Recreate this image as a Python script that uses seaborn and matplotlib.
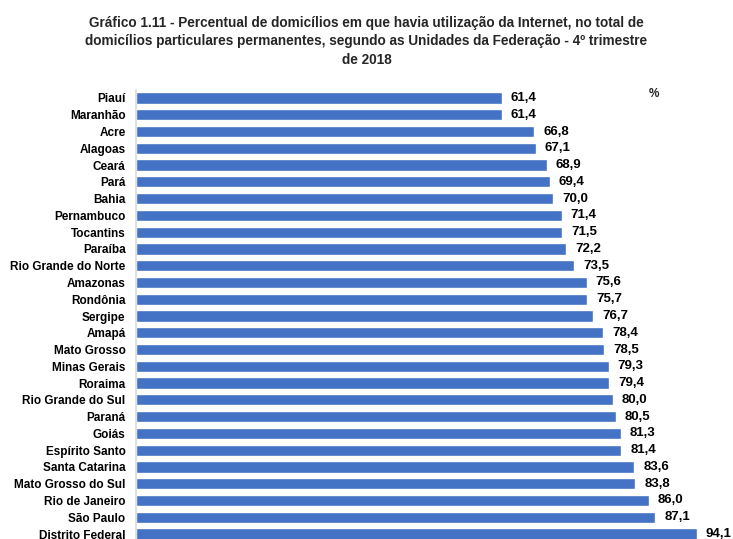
import matplotlib
matplotlib.use("Agg")
import matplotlib.pyplot as plt
import seaborn as sns
import pandas as pd

states = ["Piauí", "Maranhão", "Acre", "Alagoas", "Ceará", "Pará", "Bahia",
          "Pernambuco", "Tocantins", "Paraíba", "Rio Grande do Norte", "Amazonas",
          "Rondônia", "Sergipe", "Amapá", "Mato Grosso", "Minas Gerais", "Roraima",
          "Rio Grande do Sul", "Paraná", "Goiás", "Espírito Santo", "Santa Catarina",
          "Mato Grosso do Sul", "Rio de Janeiro", "São Paulo", "Distrito Federal"]
values = [61.4, 61.4, 66.8, 67.1, 68.9, 69.4, 70.0, 71.4, 71.5, 72.2, 73.5, 75.6,
          75.7, 76.7, 78.4, 78.5, 79.3, 79.4, 80.0, 80.5, 81.3, 81.4, 83.6, 83.8,
          86.0, 87.1, 94.1]
title = ("Gráfico 1.11 - Percentual de domicílios em que havia utilização da Internet, no total de\n"
         "domicílios particulares permanentes, segundo as Unidades da Federação - 4º trimestre\n"
         "de 2018")

sns.set_theme(style="white")
plt.rcParams['font.family'] = ['Liberation Sans Narrow', 'Liberation Sans', 'DejaVu Sans']

df = pd.DataFrame({"state": states, "value": values})

fig = plt.figure(figsize=(7.33, 5.39), dpi=100)
ax = fig.add_axes([136/733, -3.4/539, 596/733, 452.8/539])

sns.barplot(data=df, x="value", y="state", orient="h", color="#4472C4",
            saturation=1, width=0.67, ax=ax)
ax.set_xlim(0, 100)
ax.set_ylim(26.5, -0.5)
ax.set_xlabel("")
ax.set_ylabel("")
ax.set_xticks([])
for s in ["top", "right", "bottom"]:
    ax.spines[s].set_visible(False)
ax.spines["left"].set_color("#D9D9D9")
ax.spines["left"].set_linewidth(1.2)
ax.tick_params(axis="y", length=0, pad=7.5)
for lbl in ax.get_yticklabels():
    lbl.set_fontsize(8.5)
    lbl.set_fontweight("bold")
    lbl.set_color("black")

for i, v in enumerate(values):
    ax.annotate(f"{v:.1f}".replace(".", ","), xy=(v, i), xytext=(6.5, 0),
                textcoords="offset points", va="center", ha="left",
                fontsize=9.5, fontweight="bold", color="black")

fig.text(654/733, 1 - 94/539, "%", ha="center", va="center", fontsize=8.5,
         fontweight="bold")
fig.text(0.5, 1 - 41.5/539, title, ha="center", va="center", fontsize=9.8,
         fontweight="bold", linespacing=1.45)

fig.savefig("out.png", dpi=100)
